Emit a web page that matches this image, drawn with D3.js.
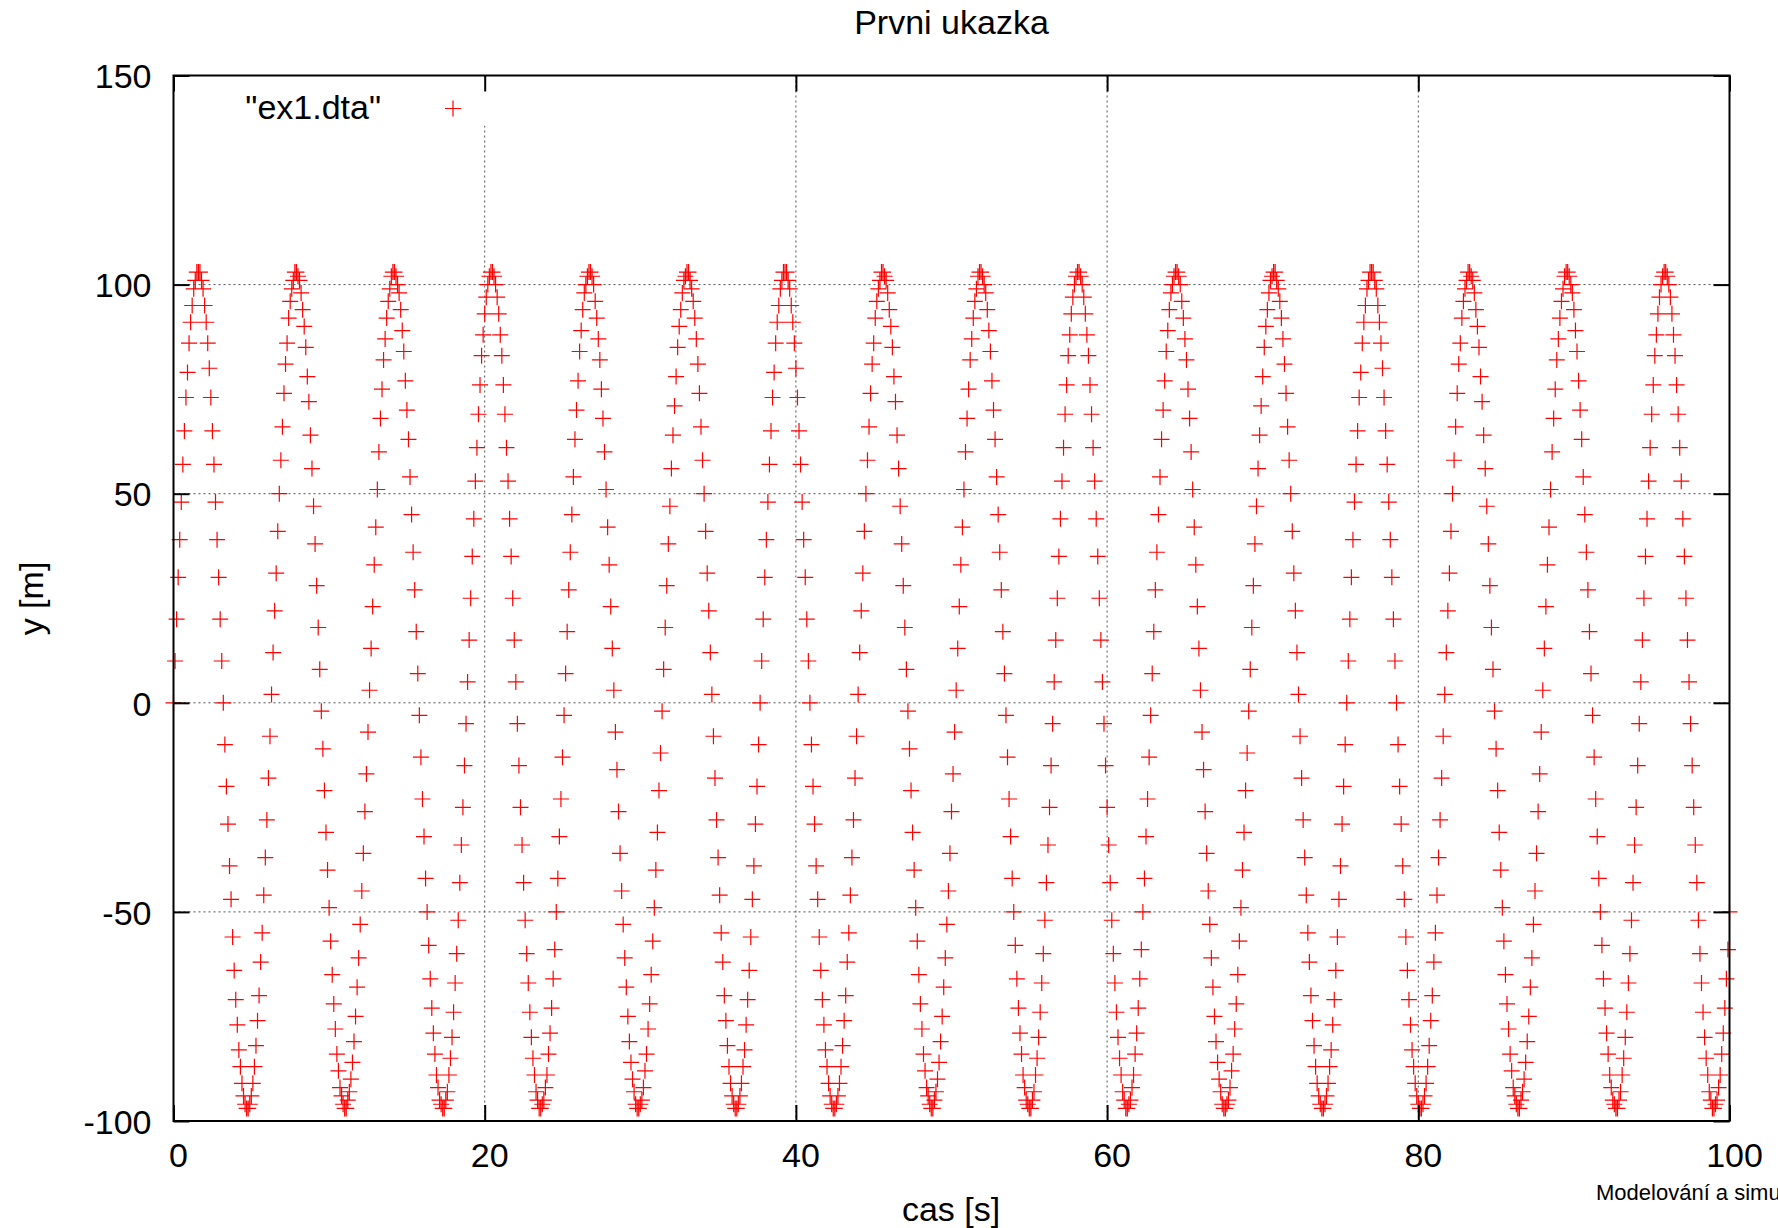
<!DOCTYPE html>
<html>
<head>
<meta charset="utf-8">
<script src="https://cdn.jsdelivr.net/npm/d3@7"></script>
<style>
  html, body { margin: 0; padding: 0; background: #fff; overflow: hidden; }
  svg { display: block; font-family: "Liberation Sans", Arial, Helvetica, sans-serif; }
</style>
</head>
<body>
<svg id="chart" width="1778" height="1228"></svg>
<script>
/* Data (ex1.dta) - one sample every 0.1 s, one line per swing
-------------------------------------------------------------------------------------------------*/
const timeStep = 0.1
const yValues = [
  0,10,20,30,39,48,57,65,73,79,86,91,95,99,101,103,103,103,101,99,95,91,86,80,73,65,57,48,39,30,20,10,0,-10,-20,-29,-39,-47,-56,-64,-71,-77,-83,-87,-91,-94,-96,-97,-97,-96,-94,-91,-87,-82,-76,-70,-62,-55,-46,-37,-28,-18,-8,
  2,12,22,31,41,50,58,66,74,81,86,92,96,99,101,103,103,102,101,98,94,90,85,78,72,64,56,47,38,28,18,8,-2,-11,-21,-31,-40,-49,-57,-65,-72,-78,-84,-88,-92,-94,-96,-97,-97,-95,-93,-90,-86,-81,-75,-68,-61,-53,-45,-36,-26,-17,-7,
  3,13,23,33,42,51,60,68,75,82,87,92,96,99,102,103,103,102,100,98,94,89,84,77,70,63,54,45,36,27,17,7,-3,-13,-23,-32,-42,-50,-58,-66,-73,-79,-84,-89,-92,-95,-96,-97,-97,-95,-93,-89,-85,-80,-74,-67,-60,-52,-43,-34,-25,-15,-5,
  5,15,25,35,44,53,61,69,76,83,88,93,97,100,102,103,103,102,100,97,93,88,83,76,69,61,53,44,35,25,15,5,-5,-15,-25,-34,-43,-52,-60,-67,-74,-80,-85,-89,-93,-95,-97,-97,-96,-95,-92,-89,-84,-79,-73,-66,-59,-50,-42,-32,-23,-13,-3,
  7,17,27,36,45,54,63,70,77,84,89,94,98,100,102,103,103,102,100,96,92,87,82,75,68,60,51,42,33,23,13,3,-7,-16,-26,-36,-45,-53,-61,-68,-75,-81,-86,-90,-93,-96,-97,-97,-96,-95,-92,-88,-84,-78,-72,-65,-57,-49,-40,-31,-21,-12,-2,
  8,18,28,38,47,56,64,71,78,85,90,94,98,101,102,103,103,101,99,96,92,87,81,74,66,58,50,41,31,22,12,2,-8,-18,-28,-37,-46,-55,-62,-70,-76,-82,-87,-91,-94,-96,-97,-97,-96,-94,-91,-87,-83,-77,-71,-64,-56,-47,-39,-29,-20,-10,
  0,10,20,30,39,48,57,65,73,79,86,91,95,99,101,103,103,103,101,99,95,91,86,80,73,65,57,48,39,30,20,10,0,-10,-20,-29,-39,-47,-56,-64,-71,-77,-83,-87,-91,-94,-96,-97,-97,-96,-94,-91,-87,-82,-76,-70,-62,-55,-46,-37,-28,-18,-8,
  2,12,22,31,41,50,58,66,74,81,86,92,96,99,101,103,103,102,101,98,94,90,85,78,72,64,56,47,38,28,18,8,-2,-11,-21,-31,-40,-49,-57,-65,-72,-78,-84,-88,-92,-94,-96,-97,-97,-95,-93,-90,-86,-81,-75,-68,-61,-53,-45,-36,-26,-17,-7,
  3,13,23,33,42,51,60,68,75,82,87,92,96,99,102,103,103,102,100,98,94,89,84,77,70,63,54,45,36,27,17,7,-3,-13,-23,-32,-42,-50,-58,-66,-73,-79,-84,-89,-92,-95,-96,-97,-97,-95,-93,-89,-85,-80,-74,-67,-60,-52,-43,-34,-25,-15,-5,
  5,15,25,35,44,53,61,69,76,83,88,93,97,100,102,103,103,102,100,97,93,88,83,76,69,61,53,44,35,25,15,5,-5,-15,-25,-34,-43,-52,-60,-67,-74,-80,-85,-89,-93,-95,-97,-97,-96,-95,-92,-89,-84,-79,-73,-66,-59,-50,-42,-32,-23,-13,-3,
  7,17,27,36,45,54,63,70,77,84,89,94,98,100,102,103,103,102,100,96,92,87,82,75,68,60,51,42,33,23,13,3,-7,-16,-26,-36,-45,-53,-61,-68,-75,-81,-86,-90,-93,-96,-97,-97,-96,-95,-92,-88,-84,-78,-72,-65,-57,-49,-40,-31,-21,-12,-2,
  8,18,28,38,47,56,64,71,78,85,90,94,98,101,102,103,103,101,99,96,92,87,81,74,66,58,50,41,31,22,12,2,-8,-18,-28,-37,-46,-55,-62,-70,-76,-82,-87,-91,-94,-96,-97,-97,-96,-94,-91,-87,-83,-77,-71,-64,-56,-47,-39,-29,-20,-10,
  0,10,20,30,39,48,57,65,73,79,86,91,95,99,101,103,103,103,101,99,95,91,86,80,73,65,57,48,39,30,20,10,0,-10,-20,-29,-39,-47,-56,-64,-71,-77,-83,-87,-91,-94,-96,-97,-97,-96,-94,-91,-87,-82,-76,-70,-62,-55,-46,-37,-28,-18,-8,
  2,12,22,31,41,50,58,66,74,81,86,92,96,99,101,103,103,102,101,98,94,90,85,78,72,64,56,47,38,28,18,8,-2,-11,-21,-31,-40,-49,-57,-65,-72,-78,-84,-88,-92,-94,-96,-97,-97,-95,-93,-90,-86,-81,-75,-68,-61,-53,-45,-36,-26,-17,-7,
  3,13,23,33,42,51,60,68,75,82,87,92,96,99,102,103,103,102,100,98,94,89,84,77,70,63,54,45,36,27,17,7,-3,-13,-23,-32,-42,-50,-58,-66,-73,-79,-84,-89,-92,-95,-96,-97,-97,-95,-93,-89,-85,-80,-74,-67,-60,-52,-43,-34,-25,-15,-5,
  5,15,25,35,44,53,61,69,76,83,88,93,97,100,102,103,103,102,100,97,93,88,83,76,69,61,53,44,35,25,15,5,-5,-15,-25,-34,-43,-52,-60,-67,-74,-80,-85,-89,-93,-95,-97,-97,-96,-95,-92,-89,-84,-79,-73,-66,-59,-50
]

const xTicks = [0, 20, 40, 60, 80, 100]
const yTicks = [-100, -50, 0, 50, 100, 150]
const xGrid = [20, 40, 60, 80]
const yGrid = [-50, 0, 50, 100]

const title = "Prvni ukazka"
const xLabel = "cas [s]"
const yLabel = "y [m]"
const seriesName = '"ex1.dta"'
const footer = "Modelování a simulace"

/* Layout
-------------------------------------------------------------------------------------------------*/
const margin = {top: 75.5, right: 48.5, bottom: 107, left: 173.5}
const fullWidth = 1778
const fullHeight = 1228
const width = fullWidth - margin.left - margin.right
const height = fullHeight - margin.top - margin.bottom
const tickLen = 16
const fontSize = 34

const data = yValues.map((y, i) => ({t: i * timeStep, y}))

const svg = d3.select("#chart")
const g = svg.append("g")
  .attr("transform", "translate(" + margin.left + "," + margin.top + ")")

const x = d3.scaleLinear().domain([0, 100]).range([0, width])
const y = d3.scaleLinear().domain([-100, 150]).range([height, 0])

// gnuplot prints a plain hyphen for negatives
const plain = d => String(d)

/* Grid
-------------------------------------------------------------------------------------------------*/
g.append("g")
  .selectAll("line")
  .data(xGrid)
  .enter()
  .append("line")
  .attr("x1", d => x(d)).attr("x2", d => x(d))
  .attr("y1", 0).attr("y2", height)
  .style("stroke", "#505050")
  .style("stroke-width", 1)
  .style("stroke-dasharray", "2,3")

g.append("g")
  .selectAll("line")
  .data(yGrid)
  .enter()
  .append("line")
  .attr("x1", 0).attr("x2", width)
  .attr("y1", d => y(d)).attr("y2", d => y(d))
  .style("stroke", "#505050")
  .style("stroke-width", 1)
  .style("stroke-dasharray", "2,3")

// key box hides the grid behind it
g.append("rect")
  .attr("x", 22).attr("y", 2)
  .attr("width", 300).attr("height", 48)
  .style("fill", "#fff")

/* Points
-------------------------------------------------------------------------------------------------*/
const plus = (cx, cy, r) => "M" + (cx - r) + "," + cy + "h" + (2 * r) + "M" + cx + "," + (cy - r) + "v" + (2 * r)

g.append("path")
  .attr("d", data.map(d => plus(x(d.t), y(d.y), 8)).join(""))
  .style("fill", "none")
  .style("stroke", "#ff0000")
  .style("stroke-width", 1.2)

/* Key
-------------------------------------------------------------------------------------------------*/
g.append("text")
  .attr("x", 207.5)
  .attr("y", 43.5)
  .attr("text-anchor", "end")
  .style("font-size", fontSize + "px")
  .text(seriesName)

g.append("path")
  .attr("d", plus(279.5, 33, 8))
  .style("fill", "none")
  .style("stroke", "#ff0000")
  .style("stroke-width", 1.2)

/* Axes (gnuplot style: frame, ticks inside, mirrored)
-------------------------------------------------------------------------------------------------*/
const tickStyle = sel => {
  sel.select(".domain").remove()
  sel.selectAll(".tick line").style("stroke", "#000").style("stroke-width", 2)
  sel.selectAll("text").style("font-size", fontSize + "px").style("fill", "#000")
}

g.append("g")
  .attr("transform", "translate(0," + height + ")")
  .call(d3.axisBottom(x).tickValues(xTicks).tickFormat(plain).tickSizeInner(-tickLen).tickSizeOuter(0).tickPadding(0))
  .call(tickStyle)
  .call(a => a.selectAll("text").attr("dy", null).attr("y", 46).attr("dx", 4.5))

g.append("g")
  .call(d3.axisTop(x).tickValues(xTicks).tickSizeInner(-tickLen).tickSizeOuter(0).tickFormat(""))
  .call(tickStyle)

g.append("g")
  .call(d3.axisLeft(y).tickValues(yTicks).tickFormat(plain).tickSizeInner(-tickLen).tickSizeOuter(0).tickPadding(22))
  .call(tickStyle)
  .call(a => a.selectAll("text").attr("dy", "0.36em"))

g.append("g")
  .attr("transform", "translate(" + width + ",0)")
  .call(d3.axisRight(y).tickValues(yTicks).tickSizeInner(-tickLen).tickSizeOuter(0).tickFormat(""))
  .call(tickStyle)

// frame
g.append("rect")
  .attr("width", width)
  .attr("height", height)
  .style("fill", "none")
  .style("stroke", "#000")
  .style("stroke-width", 2)

/* Labels
-------------------------------------------------------------------------------------------------*/
svg.append("text")
  .attr("x", 951.5)
  .attr("y", 34)
  .attr("text-anchor", "middle")
  .style("font-size", fontSize + "px")
  .text(title)

svg.append("text")
  .attr("x", 951)
  .attr("y", 1221)
  .attr("text-anchor", "middle")
  .style("font-size", fontSize + "px")
  .text(xLabel)

svg.append("text")
  .attr("transform", "translate(43,598.5) rotate(-90)")
  .attr("text-anchor", "middle")
  .style("font-size", fontSize + "px")
  .text(yLabel)

// runs off the right edge, as in the original
svg.append("text")
  .attr("x", 1596)
  .attr("y", 1200)
  .style("font-size", "22px")
  .text(footer)
</script>
</body>
</html>
